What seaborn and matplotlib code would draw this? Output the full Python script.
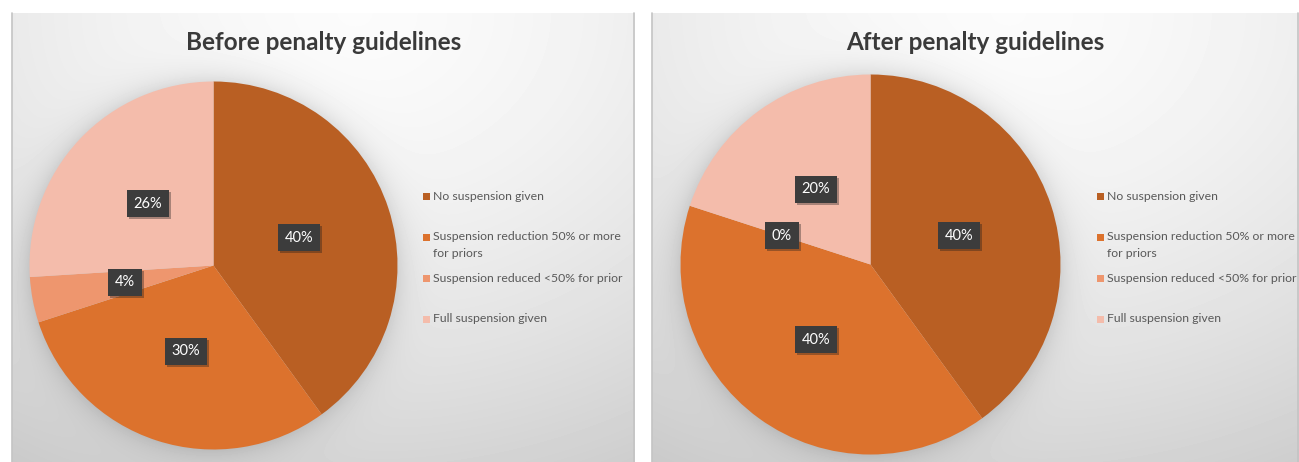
import numpy as np
import matplotlib
matplotlib.use("Agg")
import matplotlib.pyplot as plt
import matplotlib.patheffects as pe
from matplotlib.patches import Rectangle
import seaborn as sns

# ---- data -------------------------------------------------------------
categories = [
    "No suspension given",
    "Suspension reduction 50% or more\nfor priors",
    "Suspension reduced <50% for prior",
    "Full suspension given",
]
before_pct = [40, 30, 4, 26]
after_pct = [40, 40, 0, 20]
titles = ["Before penalty guidelines", "After penalty guidelines"]
slice_colors = ["#B95F23", "#DC722D", "#EE966E", "#F4BCAB"]

# ---- style ------------------------------------------------------------
sns.set_theme(style="white")
plt.rcParams["font.family"] = ["Lato", "DejaVu Sans"]

W, H = 1299, 462
fig = plt.figure(figsize=(W / 100, H / 100), dpi=100)

# panel layout in figure pixels
panels = [
    dict(x0=12, x1=635, top=13, cx=213.5, cy=265.5, r=184, legx=423),
    dict(x0=652, x1=1299, top=13, cx=870.5, cy=264.5, r=190, legx=1097),
]

# ---- panel backgrounds: soft gradient plus pie drop shadow -------------
yy, xx = np.mgrid[0:H, 0:W] + 0.5
img = np.ones((H, W))
for p in panels:
    inside = (xx >= p["x0"]) & (xx < p["x1"]) & (yy >= p["top"])
    u = (xx - p["x0"]) / (p["x1"] - p["x0"])
    v = (yy - p["top"]) / (H - p["top"])
    d = np.sqrt(((u - 0.55) / 0.9) ** 2 + (v / 1.0) ** 2)
    base = 0.985 - 0.15 * np.clip(d, 0, 1.4) ** 1.6
    rr = np.hypot(xx - p["cx"], yy - p["cy"])
    shadow = 0.10 * np.exp(-np.clip(rr - p["r"], 0, None) / 13.0)
    img = np.where(inside, base - shadow, img)

bg = fig.add_axes([0, 0, 1, 1])
bg.imshow(img, cmap="gray", vmin=0, vmax=1, extent=(0, W, H, 0),
          interpolation="bilinear", aspect="auto")
bg.set_xlim(0, W)
bg.set_ylim(H, 0)
bg.axis("off")

for p in panels:
    for xe in (p["x0"], p["x1"] - 0.5):
        bg.plot([xe, xe], [p["top"], H], color="#C4C4C4", lw=1.2)

# ---- pies -------------------------------------------------------------
for p, vals, title in zip(panels, [before_pct, after_pct], titles):
    cx, cy, r = p["cx"], p["cy"], p["r"]
    ax = fig.add_axes([(cx - r) / W, (H - cy - r) / H, 2 * r / W, 2 * r / H])
    wedges, _, autotexts = ax.pie(
        vals, colors=slice_colors, startangle=90, counterclock=False,
        autopct=lambda pc: f"{pc:.0f}%", pctdistance=0.49,
        wedgeprops=dict(linewidth=0, antialiased=True),
    )
    ax.set_xlim(-1, 1)
    ax.set_ylim(-1, 1)
    ax.axis("off")
    for t in autotexts:
        t.set_color("white")
        t.set_fontsize(10.5)
        t.set_bbox(dict(boxstyle="square,pad=0.45", fc="#3C3C3C", ec="none"))
        t.get_bbox_patch().set_path_effects([
            pe.SimplePatchShadow(offset=(1.5, -1.5), shadow_rgbFace="k", alpha=0.35),
            pe.Normal(),
        ])

    # title centred over the panel
    bg.text((p["x0"] + p["x1"]) / 2, 42, title, ha="center", va="center",
            fontsize=17.5, fontweight="bold", color="#3A3A3A")

    # legend: evenly spaced markers, labels wrap downward
    for i, (cat, col) in enumerate(zip(categories, slice_colors)):
        ym = 196 + 41 * i
        bg.add_patch(Rectangle((p["legx"], ym - 3.5), 7, 7, color=col, lw=0))
        bg.text(p["legx"] + 10, ym - 5.5, cat, ha="left", va="top",
                fontsize=8.8, color="#595959", linespacing=1.6)

fig.savefig("out.png", dpi=100)
